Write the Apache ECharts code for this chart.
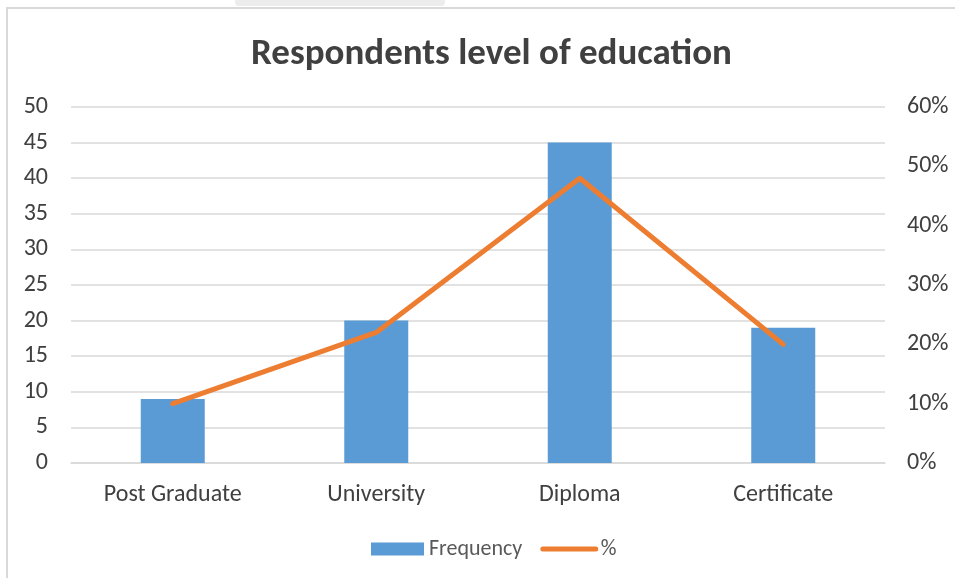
<!DOCTYPE html>
<html>
<head>
<meta charset="utf-8">
<script src="https://cdn.jsdelivr.net/npm/echarts@6/dist/echarts.min.js"></script>
<style>
html,body{margin:0;padding:0;background:#fff;}
#c{width:955px;height:578px;}
</style>
</head>
<body>
<div id="c"></div>
<script>
const categories = ['Post Graduate', 'University', 'Diploma', 'Certificate'];
const frequency = [9, 20, 45, 19];
const percent = [10, 22, 48, 20];
const leftTicks = {min: 0, max: 50, interval: 5};
const rightTicks = {min: 0, max: 60, interval: 10};

const chart = echarts.init(document.getElementById('c'), null, {renderer: 'canvas'});
const font = 'Carlito, Calibri, "Open Sans", sans-serif';
chart.setOption({
  backgroundColor: '#fff',
  animation: false,
  graphic: [
    {type: 'rect', shape: {x: 7, y: 8, width: 960, height: 580}, style: {fill: 'none', stroke: '#d9d9d9', lineWidth: 2}, z: -1},
    {type: 'rect', shape: {x: 235, y: -4, width: 210, height: 10, r: 4}, style: {fill: '#ececec'}, z: -1}
  ],
  title: {
    text: 'Respondents level of education',
    left: 246,
    top: 31,
    textStyle: {fontFamily: font, fontSize: 37, fontWeight: 'bold', color: '#404040'}
  },
  legend: {
    top: 533,
    left: 366,
    itemWidth: 53,
    itemHeight: 13,
    itemGap: 18,
    textStyle: {fontFamily: font, fontSize: 22, color: '#595959'},
    data: [
      {name: 'Frequency', icon: 'rect'},
      {name: '%', itemStyle: {opacity: 0, color: 'rgba(0,0,0,0)', borderWidth: 0}, lineStyle: {width: 5, cap: 'round', color: '#ED7D31'}}
    ]
  },
  grid: {left: 71, right: 70, top: 107, bottom: 115},
  xAxis: {
    type: 'category',
    data: categories,
    axisLine: {show: true, lineStyle: {color: '#d9d9d9', width: 1.5}},
    axisTick: {show: false},
    axisLabel: {fontFamily: font, fontSize: 24, color: '#404040', margin: 20}
  },
  yAxis: [
    {
      type: 'value', min: leftTicks.min, max: leftTicks.max, interval: leftTicks.interval,
      axisLine: {show: false}, axisTick: {show: false},
      splitLine: {lineStyle: {color: '#d9d9d9', width: 1.5}},
      axisLabel: {fontFamily: font, fontSize: 24, color: '#404040', margin: 23}
    },
    {
      type: 'value', min: rightTicks.min, max: rightTicks.max, interval: rightTicks.interval,
      axisLine: {show: false}, axisTick: {show: false},
      splitLine: {show: false},
      axisLabel: {fontFamily: font, fontSize: 24, color: '#404040', margin: 22, formatter: '{value}%'}
    }
  ],
  series: [
    {
      name: 'Frequency', type: 'bar', data: frequency, barWidth: 64,
      itemStyle: {color: '#5B9BD5'}
    },
    {
      name: '%', type: 'line', yAxisIndex: 1, data: percent,
      symbol: 'none', showSymbol: false,
      lineStyle: {color: '#ED7D31', width: 5, cap: 'round', join: 'round'},
      itemStyle: {color: '#ED7D31'}
    }
  ]
});
</script>
</body>
</html>
